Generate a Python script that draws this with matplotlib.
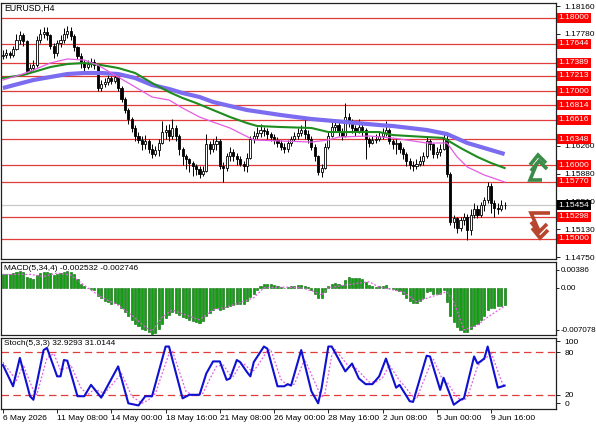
import numpy as np
import pandas as pd
import matplotlib
matplotlib.use('Agg')
import matplotlib.pyplot as plt
from matplotlib import transforms

plt.rcParams['font.family'] = ['Liberation Sans', 'DejaVu Sans']

# ---- price data (H4 bars, 6 May 16:00 ... 10 Jun 08:00) ----
first_open = 1.1748
closes = [1.1750, 1.1752, 1.1749, 1.1758, 1.1770, 1.1776, 1.1768, 1.1728, 1.1732, 1.1736,
          1.1770, 1.1778, 1.1781, 1.1776, 1.1762, 1.1752, 1.1766, 1.1770, 1.1778, 1.1782,
          1.1775, 1.1760, 1.1748, 1.1738, 1.1733, 1.1737, 1.1740, 1.1736, 1.1705, 1.1710,
          1.1713, 1.1718, 1.1714, 1.1719, 1.1705, 1.1690, 1.1675, 1.1662, 1.1650, 1.1640,
          1.1634, 1.1628, 1.1632, 1.1622, 1.1615, 1.1620, 1.1630, 1.1645, 1.1648, 1.1640,
          1.1650, 1.1640, 1.1622, 1.1612, 1.1608, 1.1603, 1.1599, 1.1594, 1.1588, 1.1592,
          1.1628, 1.1622, 1.1628, 1.1632, 1.1598, 1.1596, 1.1612, 1.1618, 1.1612, 1.1608,
          1.1602, 1.1598, 1.1610, 1.1635, 1.1640, 1.1643, 1.1648, 1.1646, 1.1642, 1.1638,
          1.1634, 1.1630, 1.1625, 1.1622, 1.1630, 1.1636, 1.1640, 1.1644, 1.1648, 1.1642,
          1.1636, 1.1625, 1.1612, 1.1590, 1.1596, 1.1625, 1.1640, 1.1652, 1.1655, 1.1645,
          1.1640, 1.1665, 1.1660, 1.1650, 1.1646, 1.1652, 1.1648, 1.1636, 1.1630, 1.1634,
          1.1636, 1.1640, 1.1644, 1.1648, 1.1632, 1.1628, 1.1630, 1.1622, 1.1615, 1.1605,
          1.1600, 1.1598, 1.1602, 1.1605, 1.1612, 1.1632, 1.1628, 1.1615, 1.1618, 1.1622,
          1.1636, 1.1588, 1.1522, 1.1528, 1.1515, 1.1525, 1.1530, 1.1512, 1.1532, 1.1540,
          1.1532, 1.1545, 1.1552, 1.1572, 1.1548, 1.1542, 1.1540, 1.1545, 1.15454]
highs = [1.1756, 1.1757, 1.1755, 1.1762, 1.1778, 1.1782, 1.1780, 1.1770, 1.1737, 1.1742,
         1.1775, 1.1785, 1.1788, 1.1787, 1.1778, 1.1766, 1.1770, 1.1776, 1.1786, 1.1789,
         1.1787, 1.1778, 1.1762, 1.1752, 1.1742, 1.1742, 1.1745, 1.1744, 1.1738, 1.1715,
         1.1718, 1.1722, 1.1721, 1.1724, 1.1720, 1.1707, 1.1692, 1.1678, 1.1665, 1.1655,
         1.1645, 1.1640, 1.1641, 1.1635, 1.1628, 1.1626, 1.1636, 1.1660, 1.1655, 1.1656,
         1.1662, 1.1655, 1.1642, 1.1625, 1.1615, 1.1610, 1.1605, 1.1602, 1.1598, 1.1598,
         1.1642, 1.1632, 1.1636, 1.1640, 1.1636, 1.1604, 1.1616, 1.1624, 1.1622, 1.1616,
         1.1612, 1.1605, 1.1616, 1.1640, 1.1646, 1.1652, 1.1656, 1.1652, 1.1650, 1.1645,
         1.1642, 1.1638, 1.1634, 1.1630, 1.1634, 1.1640, 1.1645, 1.1650, 1.1654, 1.1662,
         1.1648, 1.1640, 1.1628, 1.1614, 1.1602, 1.1630, 1.1646, 1.1658, 1.1662, 1.1658,
         1.1650, 1.1684, 1.1670, 1.1662, 1.1655, 1.1662, 1.1656, 1.1650, 1.1638, 1.1640,
         1.1642, 1.1645, 1.1650, 1.1660, 1.1650, 1.1636, 1.1636, 1.1632, 1.1625, 1.1618,
         1.1610, 1.1606, 1.1608, 1.1612, 1.1618, 1.1640, 1.1636, 1.1630, 1.1624, 1.1628,
         1.1642, 1.1642, 1.1590, 1.1532, 1.1530, 1.1530, 1.1535, 1.1534, 1.1540, 1.1548,
         1.1545, 1.1550, 1.1556, 1.1577, 1.1576, 1.1552, 1.1548, 1.1553, 1.1550]
lows = [1.1744, 1.1746, 1.1745, 1.1747, 1.1756, 1.1765, 1.1762, 1.1724, 1.1725, 1.1729,
        1.1733, 1.1766, 1.1772, 1.1770, 1.1758, 1.1746, 1.1748, 1.1760, 1.1766, 1.1772,
        1.1770, 1.1755, 1.1744, 1.1732, 1.1728, 1.1730, 1.1733, 1.1731, 1.1700, 1.1700,
        1.1706, 1.1709, 1.1710, 1.1711, 1.1700, 1.1685, 1.1670, 1.1656, 1.1645, 1.1632,
        1.1630, 1.1620, 1.1622, 1.1616, 1.1610, 1.1612, 1.1612, 1.1628, 1.1636, 1.1632,
        1.1636, 1.1632, 1.1614, 1.1600, 1.1595, 1.1590, 1.1585, 1.1586, 1.1583, 1.1585,
        1.1590, 1.1615, 1.1618, 1.1620, 1.1594, 1.1577, 1.1592, 1.1606, 1.1606, 1.1600,
        1.1598, 1.1592, 1.1590, 1.1608, 1.1630, 1.1636, 1.1638, 1.1640, 1.1636, 1.1632,
        1.1628, 1.1624, 1.1620, 1.1616, 1.1618, 1.1626, 1.1632, 1.1636, 1.1640, 1.1636,
        1.1630, 1.1620, 1.1606, 1.1586, 1.1584, 1.1594, 1.1622, 1.1638, 1.1645, 1.1640,
        1.1634, 1.1638, 1.1652, 1.1644, 1.1640, 1.1644, 1.1640, 1.1608, 1.1624, 1.1628,
        1.1630, 1.1632, 1.1636, 1.1640, 1.1628, 1.1622, 1.1615, 1.1616, 1.1608, 1.1598,
        1.1594, 1.1592, 1.1595, 1.1598, 1.1600, 1.1610, 1.1620, 1.1610, 1.1610, 1.1612,
        1.1620, 1.1584, 1.1518, 1.1515, 1.1508, 1.1510, 1.1518, 1.1498, 1.1505, 1.1528,
        1.1528, 1.1530, 1.1538, 1.1548, 1.1535, 1.1530, 1.1534, 1.1538, 1.1540]

# moving averages (vertices)
blue_idx = [0, 9, 19, 24, 29, 34, 39, 44, 49, 53, 58, 62, 72, 82, 91, 101, 111, 115, 125, 131, 137, 142, 148]
blue_ma = [1.17046, 1.17155, 1.17236, 1.17250, 1.17250, 1.17236, 1.17182, 1.17087, 1.17033, 1.16978,
           1.16924, 1.16856, 1.16747, 1.16679, 1.16625, 1.16584, 1.16543, 1.16530, 1.16476, 1.16421,
           1.16299, 1.16231, 1.16149]
green_idx = [0, 6, 9, 14, 19, 24, 29, 34, 39, 44, 49, 53, 57, 62, 67, 72, 75, 82, 91, 96, 101, 111,
             115, 125, 130, 135, 140, 144, 148]
green_ma = [1.17182, 1.17223, 1.17263, 1.17331, 1.17372, 1.17386, 1.17358, 1.17318, 1.17250, 1.17114,
            1.16992, 1.16910, 1.16842, 1.16747, 1.16652, 1.16570, 1.16530, 1.16516, 1.16503, 1.16448,
            1.16448, 1.16448, 1.16407, 1.16380, 1.16367, 1.16231, 1.16109, 1.16027, 1.15959]
mag_idx = [0, 5, 9, 14, 19, 24, 28, 34, 39, 44, 49, 53, 58, 62, 67, 74, 82, 91, 96, 99, 108, 115,
           125, 131, 134, 137, 142, 148]
mag_ma = [1.17155, 1.17223, 1.17290, 1.17386, 1.17440, 1.17426, 1.17358, 1.17195, 1.17060, 1.16924,
          1.16883, 1.16774, 1.16652, 1.16584, 1.16502, 1.16340, 1.16326, 1.16312, 1.16340, 1.16380,
          1.16394, 1.16367, 1.16299, 1.16299, 1.16109, 1.15973, 1.15864, 1.15769]

levels = [1.18000, 1.17644, 1.17389, 1.17213, 1.17000, 1.16814, 1.16616, 1.16348,
          1.16000, 1.15770, 1.15298, 1.15000]
last_price = 1.15454
price_ticks = [1.18160, 1.17780, 1.16260, 1.15880, 1.15510, 1.15130, 1.14750]

# MACD(5,34,4) histogram per bar
macd = [0.0020, 0.0021, 0.0020, 0.0022, 0.0024, 0.0025, 0.0023, 0.0016, 0.0014, 0.0013,
        0.0019, 0.0022, 0.0024, 0.0024, 0.0022, 0.0019, 0.0021, 0.0022, 0.0024, 0.0025,
        0.0024, 0.0020, 0.0013, 0.0006, 0.0002, -0.0001, -0.0002, -0.0004, -0.0012, -0.0016,
        -0.0020, -0.0022, -0.0024, -0.0023, -0.0025, -0.0030, -0.0036, -0.0042, -0.0048, -0.0054,
        -0.0058, -0.0062, -0.0064, -0.0067, -0.0070, -0.0068, -0.0062, -0.0054, -0.0046, -0.0041,
        -0.0037, -0.0038, -0.0041, -0.0044, -0.0046, -0.0048, -0.0050, -0.0052, -0.0053, -0.0050,
        -0.0042, -0.0038, -0.0034, -0.0031, -0.0033, -0.0032, -0.0029, -0.0027, -0.0026, -0.0025,
        -0.0025, -0.0024, -0.0020, -0.0014, -0.0009, -0.0003, 0.0003, 0.0005, 0.0006, 0.0005,
        0.0004, 0.0003, 0.0001, -0.0001, 0.0001, 0.0002, 0.0003, 0.0004, 0.0004, 0.0003,
        0.0001, -0.0004, -0.0010, -0.0016, -0.0016, -0.0006, 0.0003, 0.0006, 0.0007, 0.0005,
        0.0004, 0.0012, 0.0016, 0.0015, 0.0014, 0.0015, 0.0013, 0.0008, 0.0004, 0.0002,
        0.0001, 0.0002, 0.0003, 0.0004, 0.0000, -0.0002, -0.0003, -0.0005, -0.0009, -0.0015,
        -0.0020, -0.0023, -0.0023, -0.0020, -0.0015, -0.0006, -0.0005, -0.0009, -0.0010, -0.0009,
        -0.0004, -0.0022, -0.0042, -0.0052, -0.0059, -0.0063, -0.0066, -0.0066, -0.0062, -0.0057,
        -0.0054, -0.0049, -0.0043, -0.0034, -0.0031, -0.0030, -0.0028, -0.0027, -0.002532]
macd_sig_idx = [0, 8, 12, 16, 20, 25, 29, 34, 38, 42, 44, 47, 50, 54, 58, 62, 66, 74, 77, 83, 88,
                92, 94, 96, 101, 108, 111, 118, 122, 126, 131, 133, 136, 140, 143, 148]
macd_sig = [0.0020, 0.0020, 0.0017, 0.0022, 0.0019, 0.0000, -0.0014, -0.0026, -0.0041, -0.0059,
            -0.0065, -0.0044, -0.0033, -0.0041, -0.0048, -0.0033, -0.0029, -0.0015, 0.0000, 0.0001,
            0.0000, -0.0006, -0.0011, 0.0000, 0.0004, 0.0009, 0.0001, -0.0006, -0.0021, -0.0014,
            -0.0006, -0.0021, -0.0063, -0.0056, -0.0044, -0.002746]

# Stochastic(5,3,3)
stoch_idx = [0, 3, 5, 8, 9, 12, 13, 16, 17, 18, 19, 22, 24, 26, 29, 34, 37, 40, 42, 44, 48, 49, 53,
             55, 58, 60, 62, 64, 66, 67, 69, 70, 72, 73, 74, 77, 78, 81, 83, 84, 85, 88, 91, 93, 94,
             96, 97, 101, 103, 105, 107, 109, 111, 113, 116, 117, 120, 121, 125, 126, 129, 130, 133,
             135, 136, 139, 140, 142, 143, 146, 148]
stoch_main = [62, 32, 72, 18, 13, 83, 86, 46, 46, 69, 68, 18, 18, 34, 16, 60, 8, 5, 18, 18, 88, 88, 15,
              20, 20, 50, 67, 67, 41, 43, 69, 66, 52, 46, 66, 88, 85, 32, 32, 35, 33, 83, 25, 8, 29,
              88, 88, 53, 64, 43, 35, 35, 46, 71, 30, 34, 11, 10, 75, 74, 27, 44, 6,
              13, 15, 74, 64, 71, 88, 30, 32.9293]
stsig_idx = [0, 4, 6, 9, 10, 13, 15, 17, 19, 20, 23, 25, 27, 30, 35, 38, 41, 43, 45, 49, 50, 54, 56,
             59, 61, 63, 65, 67, 68, 70, 71, 73, 74, 75, 78, 79, 82, 84, 86, 89, 92, 94, 95, 97, 98,
             102, 104, 106, 108, 110, 112, 114, 117, 118, 121, 122, 126, 127, 130, 131, 134, 136, 137,
             140, 141, 143, 144, 147, 148]
stoch_sig = [66, 40, 62, 26, 20, 72, 78, 55, 58, 62, 30, 20, 28, 22, 50, 18, 8, 13, 22, 78, 82, 25, 19,
             22, 42, 60, 62, 48, 46, 62, 64, 55, 54, 60, 82, 84, 42, 33, 35, 70, 38, 16, 22, 75, 84,
             60, 58, 48, 38, 38, 44, 62, 40, 35, 17, 14, 62, 70, 38, 38, 16, 12, 16,
             60, 66, 74, 80, 40, 31.0144]

time_idx = [0, 16, 32, 48, 64, 80, 96, 112, 128, 144]
time_labels = ['6 May 2026', '11 May 08:00', '14 May 00:00', '18 May 16:00', '21 May 08:00',
               '26 May 00:00', '28 May 16:00', '2 Jun 08:00', '5 Jun 00:00', '9 Jun 16:00']

# ---- figure ----
W, H = 596, 425
fig = plt.figure(figsize=(W / 100, H / 100), dpi=100)
fig.patch.set_facecolor('white')

def rect(x0, y0, x1, y1):
    return [x0 / W, 1 - y1 / H, (x1 - x0) / W, (y1 - y0) / H]

ax = fig.add_axes(rect(1.2, 3, 556, 259))
ax2 = fig.add_axes(rect(1.2, 262, 556, 335), sharex=ax)
ax3 = fig.add_axes(rect(1.2, 338, 556, 409), sharex=ax)

n = len(closes)
x = np.arange(n)
c = np.array(closes)
o = np.r_[first_open, c[:-1]]
h = np.maximum(np.array(highs), np.maximum(o, c))
l = np.minimum(np.array(lows), np.minimum(o, c))

ax.set_xlim(-0.5, -0.5 + 554.8 / 3.39)
ax.set_ylim(1.14723, 1.18201)

for lv in levels:
    ax.axhline(lv, color='#e03c3c', lw=0.9, zorder=1)
ax.axhline(last_price, color='#c8c8c8', lw=0.9, zorder=1)

# candles
ax.vlines(x, l, h, color='black', lw=0.7, zorder=3)
up = c >= o
body_h = np.maximum(np.abs(c - o), 0.00003)
ax.bar(x[up], body_h[up], bottom=np.minimum(o, c)[up], width=0.62,
       color='white', edgecolor='black', lw=0.6, zorder=4)
ax.bar(x[~up], body_h[~up], bottom=np.minimum(o, c)[~up], width=0.62,
       color='black', edgecolor='black', lw=0.6, zorder=4)

ax.plot(blue_idx, blue_ma, color='#7b6cf0', lw=3.0, zorder=5, solid_capstyle='butt')
ax.plot(green_idx, green_ma, color='#1e8c1e', lw=1.5, zorder=6)
ax.plot(mag_idx, mag_ma, color='#e35ce3', lw=0.9, zorder=7)

ax.text(0.005, 0.995, 'EURUSD,H4', transform=ax.transAxes, fontsize=6.3,
        va='top', ha='left')

# right price scale
ax.yaxis.tick_right()
ax.set_yticks(price_ticks)
ax.set_yticklabels(['%.5f' % v for v in price_ticks])
ax.tick_params(axis='y', labelsize=6, length=3, pad=3, width=0.6)
ax.tick_params(axis='x', bottom=False, labelbottom=False)
tr = transforms.blended_transform_factory(ax.transAxes, ax.transData)
for lv in levels:
    ax.text(1.005, lv, '%.5f' % lv, transform=tr, fontsize=6, color='white', ha='left',
            va='center', clip_on=False, zorder=10,
            bbox=dict(boxstyle='square,pad=0.18', fc='#ff0000', ec='none'))
ax.text(1.005, last_price, '%.5f' % last_price, transform=tr, fontsize=6, color='white',
        ha='left', va='center', clip_on=False, zorder=10,
        bbox=dict(boxstyle='square,pad=0.18', fc='black', ec='none'))

# MACD
ax2.set_ylim(-0.007078, 0.00386)
ax2.bar(x, macd, width=0.62, color='#11a011', edgecolor='#006a00', lw=0.4, zorder=3)
ax2.plot(macd_sig_idx, macd_sig, color='#e35ce3', lw=0.9, ls=(0, (1.5, 1.5)), zorder=4)
ax2.text(0.005, 0.96, 'MACD(5,34,4) -0.002532 -0.002746', transform=ax2.transAxes,
         fontsize=6, va='top', ha='left', zorder=6)
ax2.yaxis.tick_right()
ax2.set_yticks([0.00267, 0.0, -0.00632])
ax2.set_yticklabels(['0.00386', '0.00', '-0.007078'])
ax2.tick_params(axis='y', labelsize=5.8, length=2, pad=1.2, width=0.6)
ax2.tick_params(axis='x', bottom=False, labelbottom=False)

# Stochastic
ax3.set_ylim(0, 100)
ax3.axhline(80, color='#e03c3c', lw=0.9, ls=(0, (6, 3.5)), zorder=1)
ax3.axhline(20, color='#e03c3c', lw=0.9, ls=(0, (6, 3.5)), zorder=1)
ax3.plot(stsig_idx, stoch_sig, color='#e35ce3', lw=0.9, ls=(0, (1.5, 1.5)), zorder=3)
ax3.plot(stoch_idx, stoch_main, color='#1010d0', lw=1.5, zorder=4)
ax3.text(0.005, 0.97, 'Stoch(5,3,3) 32.9293 31.0144', transform=ax3.transAxes,
         fontsize=6, va='top', ha='left', zorder=6)
ax3.yaxis.tick_right()
ax3.set_yticks([95.7, 80, 20, 8.4])
ax3.set_yticklabels(['100', '80', '20', '0'])
ax3.tick_params(axis='y', labelsize=6, length=3, pad=3, width=0.6)
ax3.set_xticks(time_idx)
ax3.set_xticklabels(time_labels, ha='left')
ax3.tick_params(axis='x', labelsize=6, length=3, pad=1.5, width=0.6)

for a in (ax, ax2, ax3):
    for s in a.spines.values():
        s.set_linewidth(0.9)
        s.set_color('#202020')

# signal arrows drawn in pixel space
ov = fig.add_axes([0, 0, 1, 1], zorder=20)
ov.set_xlim(0, W)
ov.set_ylim(H, 0)
ov.axis('off')
ov.patch.set_alpha(0)
g = '#3b8c48'
r = '#b8462e'
kw = dict(lw=2.6, solid_joinstyle='miter', solid_capstyle='butt')
ov.plot([542, 530, 537], [180, 180, 163], color=g, **kw)
ov.plot([530, 538, 546], [165, 155, 163], color=g, **kw)
ov.plot([531, 539, 547], [171, 161, 169], color=g, **kw)
ov.plot([550, 531, 539], [213, 213, 231], color=r, **kw)
ov.plot([532, 540, 548], [228, 238, 230], color=r, **kw)
ov.plot([531, 539, 547], [222, 232, 224], color=r, **kw)

fig.savefig('out.png', dpi=100)
